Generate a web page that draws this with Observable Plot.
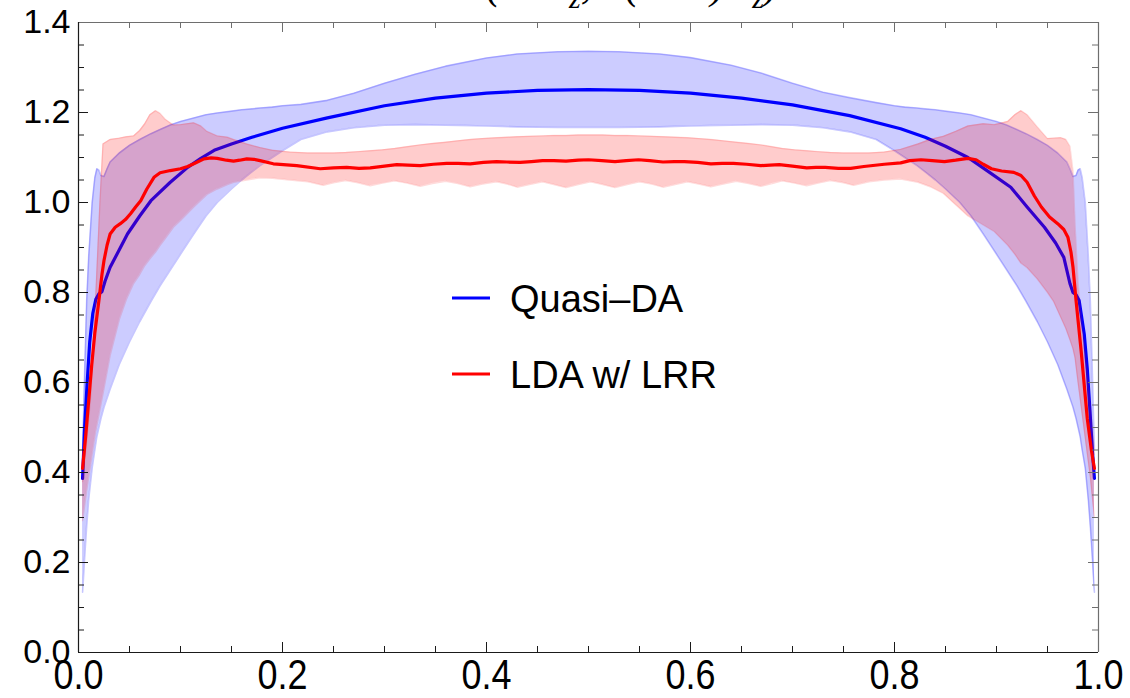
<!DOCTYPE html>
<html>
<head>
<meta charset="utf-8">
<script src="https://cdn.jsdelivr.net/npm/d3@7"></script>
<script src="https://cdn.jsdelivr.net/npm/@observablehq/plot@0.6"></script>
<style>
  html, body { margin: 0; padding: 0; background: white; }
  #chart { width: 1130px; height: 698px; overflow: hidden; }
</style>
</head>
<body>
<div id="chart"></div>
<script>
// ---------------- data ----------------
// Quasi-DA band (x, lower, upper)
const qdaBandX = [0.004,0.005,0.006,0.008,0.010,0.0134,0.016,0.018,0.020,0.022,0.025,0.028,0.031,0.04,0.05,0.06,0.071,0.08,0.09,0.10,0.113,0.125,0.136,0.15,0.16,0.17,0.178,0.19,0.20,0.218,0.244,0.27,0.30,0.33,0.36,0.40,0.43,0.47,0.50,
  0.53,0.57,0.60,0.64,0.67,0.70,0.73,0.756,0.782,0.80,0.81,0.822,0.83,0.84,0.85,0.864,0.875,0.887,0.90,0.91,0.92,0.929,0.94,0.95,0.96,0.969,0.972,0.975,0.978,0.980,0.982,0.984,0.987,0.990,0.992,0.994,0.995,0.996];
const qdaUpper = [0.45,0.53,0.62,0.78,0.88,1.00,1.055,1.075,1.072,1.06,1.058,1.075,1.09,1.11,1.127,1.14,1.153,1.162,1.172,1.18,1.188,1.195,1.199,1.203,1.206,1.208,1.21,1.212,1.215,1.218,1.227,1.243,1.265,1.285,1.303,1.321,1.33,1.335,1.336,
  1.335,1.33,1.322,1.305,1.287,1.265,1.245,1.233,1.222,1.215,1.212,1.21,1.208,1.206,1.203,1.199,1.195,1.188,1.18,1.172,1.162,1.153,1.14,1.127,1.11,1.09,1.075,1.058,1.06,1.072,1.075,1.055,1.00,0.88,0.78,0.62,0.53,0.45];
const qdaLower = [0.134,0.17,0.21,0.28,0.34,0.41,0.45,0.48,0.50,0.52,0.545,0.565,0.585,0.64,0.69,0.735,0.78,0.815,0.85,0.885,0.93,0.97,1.0,1.03,1.05,1.068,1.082,1.10,1.115,1.14,1.157,1.166,1.172,1.173,1.172,1.17,1.168,1.167,1.167,
  1.167,1.168,1.17,1.172,1.173,1.172,1.166,1.157,1.14,1.115,1.10,1.082,1.068,1.05,1.03,1.0,0.97,0.93,0.885,0.85,0.815,0.78,0.735,0.69,0.64,0.585,0.565,0.545,0.52,0.50,0.48,0.45,0.41,0.34,0.28,0.21,0.17,0.134];

// Quasi-DA central curve
const qdaLineX = [0.004,0.006,0.0085,0.011,0.014,0.017,0.020,0.023,0.026,0.031,0.04,0.048,0.06,0.071,0.09,0.107,0.12,0.133,0.15,0.17,0.20,0.244,0.30,0.35,0.40,0.45,0.50,
  0.55,0.60,0.65,0.70,0.756,0.806,0.83,0.85,0.872,0.89,0.914,0.93,0.947,0.958,0.966,0.972,0.975,0.978,0.981,0.986,0.989,0.991,0.994,0.996];
const qdaLine = [0.387,0.50,0.60,0.69,0.753,0.785,0.797,0.802,0.825,0.856,0.895,0.93,0.97,1.004,1.045,1.078,1.098,1.116,1.13,1.145,1.165,1.188,1.215,1.232,1.243,1.249,1.251,
  1.249,1.243,1.232,1.217,1.193,1.164,1.145,1.125,1.10,1.072,1.034,0.99,0.945,0.91,0.878,0.82,0.80,0.795,0.782,0.708,0.63,0.56,0.449,0.387];

// LDA w/ LRR band (x, lower, upper)
const ldaBandX = [0.004,0.008,0.012,0.0167,0.021,0.024,0.031,0.04,0.047,0.054,0.06,0.065,0.07,0.0755,0.08,0.085,0.093,0.1,0.113,0.12,0.126,0.136,0.146,0.152,0.165,0.178,0.19,0.207,
  0.225,0.24,0.25,0.262,0.274,0.286,0.298,0.31,0.322,0.335,0.347,0.36,0.372,0.384,0.396,0.41,0.42,0.43,0.442,0.455,0.466,0.478,0.49,0.502,0.514,0.526,0.538,0.55,0.562,0.573,0.585,0.597,0.608,0.62,0.632,0.645,0.657,0.669,0.68,0.69,0.702,0.714,0.725,0.737,0.75,0.76,0.775,
  0.79,0.806,0.823,0.835,0.848,0.86,0.872,0.887,0.898,0.911,0.918,0.924,0.93,0.94,0.95,0.956,0.963,0.968,0.972,0.975,0.977,0.98,0.984,0.988,0.992,0.996];
const ldaUpper = [0.38,0.47,0.57,0.78,1.0,1.13,1.14,1.143,1.146,1.148,1.16,1.175,1.195,1.204,1.198,1.185,1.172,1.173,1.177,1.17,1.158,1.148,1.145,1.14,1.13,1.122,1.116,1.112,
  1.11,1.11,1.11,1.111,1.113,1.115,1.117,1.12,1.124,1.128,1.131,1.134,1.137,1.14,1.142,1.144,1.145,1.146,1.147,1.148,1.149,1.149,1.15,1.15,1.15,1.149,1.149,1.148,1.147,1.146,1.145,1.144,1.142,1.14,1.137,1.134,1.131,1.128,1.124,1.12,1.117,1.115,1.113,1.111,1.11,1.11,1.11,
  1.112,1.118,1.13,1.14,1.147,1.158,1.17,1.175,1.173,1.18,1.195,1.204,1.195,1.168,1.142,1.143,1.144,1.14,1.125,1.07,0.95,0.82,0.72,0.64,0.55,0.44];
const ldaLower = [0.293,0.36,0.42,0.49,0.54,0.575,0.66,0.74,0.785,0.82,0.84,0.86,0.875,0.89,0.905,0.92,0.945,0.96,0.99,1.005,1.018,1.03,1.04,1.045,1.05,1.055,1.054,1.05,
  1.046,1.038,1.044,1.049,1.044,1.037,1.043,1.048,1.043,1.036,1.042,1.047,1.042,1.035,1.041,1.046,1.041,1.034,1.04,1.046,1.04,1.033,1.04,1.046,1.04,1.033,1.04,1.046,1.041,1.034,1.04,1.046,1.041,1.035,1.041,1.047,1.042,1.036,1.042,1.048,1.043,1.037,1.043,1.049,1.044,1.038,1.046,
  1.05,1.052,1.045,1.035,1.02,0.995,0.97,0.95,0.935,0.905,0.885,0.865,0.855,0.83,0.80,0.78,0.745,0.72,0.695,0.675,0.655,0.60,0.53,0.46,0.39,0.30];

// LDA w/ LRR central curve
const ldaLineX = [0.004,0.007,0.010,0.013,0.016,0.020,0.023,0.025,0.028,0.031,0.036,0.041,0.046,0.051,0.056,0.061,0.067,0.074,0.08,0.09,0.10,0.107,0.113,0.123,0.13,0.136,0.145,0.152,0.158,0.165,0.172,0.178,0.191,0.214,0.237,0.25,0.263,0.275,0.286,0.30,0.312,0.323,0.335,0.348,0.361,0.372,0.384,0.397,0.41,0.42,0.433,0.444,0.455,0.466,0.478,0.49,0.50,
  0.513,0.526,0.537,0.549,0.56,0.573,0.584,0.594,0.607,0.62,0.631,0.642,0.655,0.669,0.678,0.687,0.70,0.714,0.723,0.732,0.745,0.757,0.77,0.79,0.806,0.815,0.826,0.837,0.849,0.86,0.872,0.88,0.887,0.895,0.905,0.917,0.924,0.93,0.937,0.944,0.952,0.96,0.966,0.97,0.973,0.975,0.978,0.983,0.989,0.993,0.996];
const ldaLine = [0.409,0.48,0.56,0.64,0.71,0.782,0.84,0.871,0.905,0.93,0.945,0.953,0.962,0.975,0.99,1.004,1.03,1.056,1.066,1.071,1.075,1.08,1.086,1.097,1.099,1.098,1.094,1.092,1.094,1.097,1.096,1.093,1.086,1.082,1.075,1.077,1.078,1.076,1.077,1.081,1.084,1.083,1.082,1.085,1.087,1.087,1.086,1.089,1.091,1.09,1.089,1.091,1.093,1.093,1.092,1.094,1.095,
  1.093,1.091,1.093,1.095,1.093,1.09,1.091,1.091,1.089,1.086,1.087,1.087,1.085,1.082,1.083,1.084,1.081,1.077,1.078,1.078,1.076,1.076,1.08,1.085,1.088,1.093,1.095,1.093,1.091,1.094,1.098,1.095,1.085,1.075,1.07,1.067,1.06,1.045,1.015,0.99,0.968,0.953,0.94,0.923,0.89,0.856,0.782,0.67,0.52,0.45,0.409];

// axes
const xDomain = [0, 1];
const yDomain = [0, 1.4];
const xMajor = [0, 0.2, 0.4, 0.6, 0.8, 1.0];
const xMinor = [0.05,0.1,0.15,0.25,0.3,0.35,0.45,0.5,0.55,0.65,0.7,0.75,0.85,0.9,0.95];
const yMajor = [0, 0.2, 0.4, 0.6, 0.8, 1.0, 1.2, 1.4];
const yMinor = [0.05,0.1,0.15,0.25,0.3,0.35,0.45,0.5,0.55,0.65,0.7,0.75,0.85,0.9,0.95,1.05,1.1,1.15,1.25,1.3,1.35];
const seriesNames = ["Quasi\u2013DA", "LDA w/ LRR"];
const seriesColors = ["#0000ff", "#ff0000"];

// ---------------- build tables ----------------
const qdaBand = qdaBandX.map((x, i) => ({x, lo: qdaLower[i], hi: qdaUpper[i]}));
const qdaMid = qdaLineX.map((x, i) => ({x, y: qdaLine[i]}));
const ldaBand = ldaBandX.map((x, i) => ({x, lo: ldaLower[i], hi: ldaUpper[i]}));
const ldaMid = ldaLineX.map((x, i) => ({x, y: ldaLine[i]}));

const W = 1130, H = 698;
const mL = 78, mR = 32, mT = 22, mB = 46;
const innerW = W - mL - mR, innerH = H - mT - mB;
const fmt = d => d.toFixed(1);
const frameDark = "#1a1a1a", frameGray = "#6e6e6e";
const lineW = 3.2;

const chart = Plot.plot({
  width: W, height: H,
  marginLeft: mL, marginRight: mR, marginTop: mT, marginBottom: mB,
  x: {domain: xDomain},
  y: {domain: yDomain},
  style: {fontFamily: "'Liberation Sans', Arial, sans-serif", fontSize: "34px", background: "white", color: "black"},
  marks: [
    // Quasi-DA band + curve
    Plot.areaY(qdaBand, {x: "x", y1: "lo", y2: "hi", fill: seriesColors[0], fillOpacity: 0.2}),
    Plot.line(qdaBand, {x: "x", y: "lo", stroke: seriesColors[0], strokeOpacity: 0.22, strokeWidth: 1.6}),
    Plot.line(qdaBand, {x: "x", y: "hi", stroke: seriesColors[0], strokeOpacity: 0.22, strokeWidth: 1.6}),
    Plot.line(qdaMid, {x: "x", y: "y", stroke: seriesColors[0], strokeWidth: lineW}),
    // LDA band + curve
    Plot.areaY(ldaBand, {x: "x", y1: "lo", y2: "hi", fill: seriesColors[1], fillOpacity: 0.2}),
    Plot.line(ldaBand, {x: "x", y: "lo", stroke: seriesColors[1], strokeOpacity: 0.14, strokeWidth: 1.4}),
    Plot.line(ldaBand, {x: "x", y: "hi", stroke: seriesColors[1], strokeOpacity: 0.14, strokeWidth: 1.4}),
    Plot.line(ldaMid, {x: "x", y: "y", stroke: seriesColors[1], strokeWidth: lineW}),
    // inward ticks, bottom/left
    Plot.tickX(xMinor, {x: d => d, insetTop: innerH - 6, stroke: frameDark, strokeWidth: 1}),
    Plot.tickX(xMajor, {x: d => d, insetTop: innerH - 10, stroke: frameDark, strokeWidth: 1}),
    Plot.tickY(yMinor, {y: d => d, insetRight: innerW - 6, stroke: frameDark, strokeWidth: 1}),
    Plot.tickY(yMajor, {y: d => d, insetRight: innerW - 10, stroke: frameDark, strokeWidth: 1}),
    // inward ticks, top/right
    Plot.tickX(xMinor, {x: d => d, insetBottom: innerH - 6, stroke: frameGray, strokeWidth: 1}),
    Plot.tickX(xMajor, {x: d => d, insetBottom: innerH - 10, stroke: frameGray, strokeWidth: 1}),
    Plot.tickY(yMinor, {y: d => d, insetLeft: innerW - 6, stroke: frameGray, strokeWidth: 1}),
    Plot.tickY(yMajor, {y: d => d, insetLeft: innerW - 10, stroke: frameGray, strokeWidth: 1}),
    // frame
    Plot.ruleY([yDomain[1]], {stroke: frameGray, strokeWidth: 1.2}),
    Plot.ruleX([xDomain[1]], {stroke: frameGray, strokeWidth: 1.2}),
    Plot.ruleX([xDomain[0]], {stroke: frameDark, strokeWidth: 1.2}),
    Plot.ruleY([yDomain[0]], {stroke: frameDark, strokeWidth: 1.2}),
    // tick labels
    Plot.axisX({ticks: xMajor, tickSize: 0, tickPadding: 4, tickFormat: fmt, fontSize: 36, label: null}),
    Plot.axisY({ticks: yMajor, tickSize: 0, tickPadding: 8, tickFormat: fmt, fontSize: 34, label: null})
  ]
});
document.getElementById("chart").appendChild(chart);

const svg = d3.select(chart.tagName.toLowerCase() === "svg" ? chart : chart.querySelector("svg"));

// x tick labels are vertically stretched in the reference: scale about the top of each label
svg.selectAll('g[aria-label="x-axis tick label"] text').each(function () {
  const bb = this.getBBox();
  const tr = this.getAttribute("transform") || "";
  this.setAttribute("transform", `${tr} translate(0,${bb.y}) scale(1,1.2) translate(0,${-bb.y})`);
});

// legend inside the frame
const leg = svg.append("g")
  .attr("font-family", "'Liberation Sans', Arial, sans-serif")
  .attr("font-size", 38)
  .attr("text-anchor", "start");
const legRows = [298, 374];
seriesNames.forEach((name, i) => {
  leg.append("line").attr("x1", 452).attr("x2", 490).attr("y1", legRows[i]).attr("y2", legRows[i])
    .attr("stroke", seriesColors[i]).attr("stroke-width", lineW);
  leg.append("text").attr("x", 510).attr("y", legRows[i] + 13.5)
    .attr("text-anchor", "start").attr("fill", "black").text(name);
});

// plot label, clipped at the top edge as in the reference
const title = svg.append("text").attr("x", 420).attr("y", -2).attr("text-anchor", "start")
  .attr("font-family", "'Liberation Serif', 'Times New Roman', serif").attr("font-style", "italic").attr("font-size", 44);
title.append("tspan").text("min(2xP");
title.append("tspan").attr("dy", 10).attr("font-size", 30).text("z");
title.append("tspan").attr("dy", -10).text(", 2(1\u2212x)P");
title.append("tspan").attr("dy", 10).attr("font-size", 30).text("z");
title.append("tspan").attr("dy", -10).text(")");
</script>
</body>
</html>
